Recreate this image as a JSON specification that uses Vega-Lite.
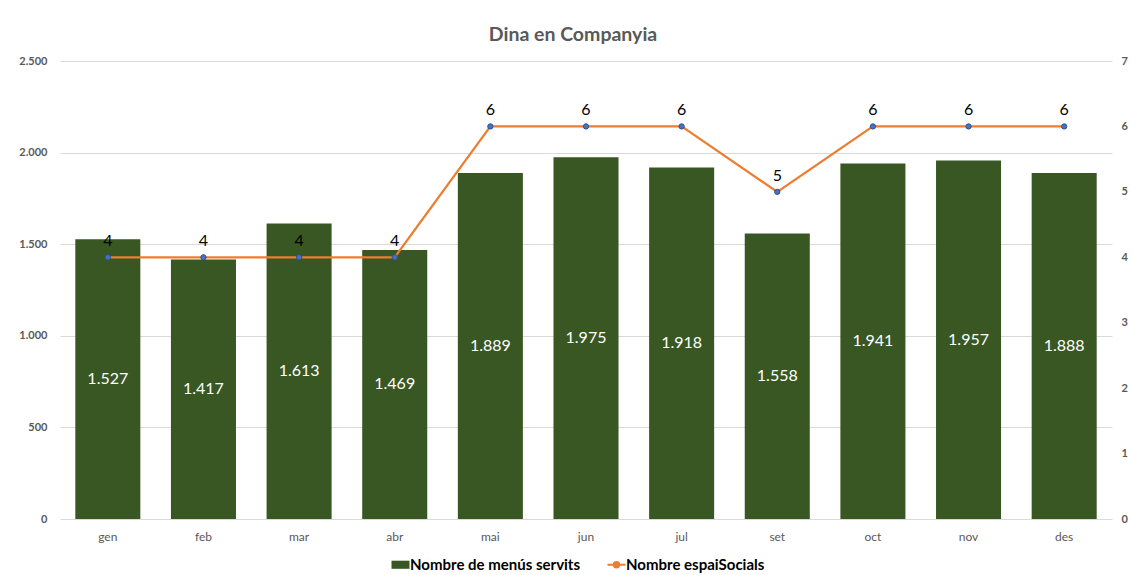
{
  "$schema": "https://vega.github.io/schema/vega-lite/v6.json",
  "width": 1052,
  "height": 458,
  "autosize": {"type": "none"},
  "padding": {"left": 60, "top": 61, "right": 19, "bottom": 56},
  "background": "white",
  "title": {
    "text": "Dina en Companyia",
    "font": "Lato",
    "fontSize": 19.5,
    "fontWeight": "bold",
    "color": "#595959",
    "anchor": "middle",
    "baseline": "middle",
    "offset": 1,
    "dx": -13
  },
  "config": {
    "locale": {"number": {"decimal": ",", "thousands": ".", "grouping": [3], "currency": ["", " €"]}},
    "view": {"stroke": null},
    "font": "Lato"
  },
  "data": {
    "values": [
      {"mes": "gen", "menus": 1527, "espais": 4},
      {"mes": "feb", "menus": 1417, "espais": 4},
      {"mes": "mar", "menus": 1613, "espais": 4},
      {"mes": "abr", "menus": 1469, "espais": 4},
      {"mes": "mai", "menus": 1889, "espais": 6},
      {"mes": "jun", "menus": 1975, "espais": 6},
      {"mes": "jul", "menus": 1918, "espais": 6},
      {"mes": "set", "menus": 1558, "espais": 5},
      {"mes": "oct", "menus": 1941, "espais": 6},
      {"mes": "nov", "menus": 1957, "espais": 6},
      {"mes": "des", "menus": 1888, "espais": 6}
    ]
  },
  "encoding": {
    "x": {
      "field": "mes",
      "type": "nominal",
      "sort": null,
      "scale": {"paddingInner": 0.32, "paddingOuter": 0.16},
      "axis": {
        "title": null,
        "labelAngle": 0,
        "labelColor": "#595959",
        "labelFont": "Lato",
        "labelFontSize": 12,
        "labelPadding": 12,
        "ticks": false,
        "domain": false,
        "grid": false
      }
    }
  },
  "layer": [
    {
      "mark": {"type": "bar", "color": "#385723"},
      "encoding": {
        "y": {
          "field": "menus",
          "type": "quantitative",
          "scale": {"domain": [0, 2500], "nice": false},
          "axis": {
            "title": null,
            "orient": "left",
            "values": [0, 500, 1000, 1500, 2000, 2500],
            "format": ",d",
            "labelColor": "#595959",
            "labelFont": "Lato",
            "labelFontSize": 11,
            "labelFontWeight": "bold",
            "labelPadding": 13,
            "ticks": false,
            "domain": false,
            "grid": true,
            "gridColor": "#D9D9D9",
            "gridWidth": 1
          }
        },
        "color": {
          "datum": "Nombre de menús servits",
          "type": "nominal",
          "scale": {
            "domain": ["Nombre de menús servits", "Nombre espaiSocials"],
            "range": ["#385723", "#ED7D31"]
          },
          "legend": {
            "title": null,
            "orient": "none",
            "legendX": 333,
            "legendY": 496,
            "direction": "horizontal",
            "labelFont": "Lato",
            "labelFontSize": 15,
            "labelFontWeight": "bold",
            "labelColor": "#000000",
            "labelLimit": 400,
            "labelOffset": 2,
            "columnPadding": 22,
            "symbolSize": 324,
            "encode": {
              "symbols": {
                "update": {
                  "shape": {"signal": "datum.value === 'Nombre espaiSocials' ? 'M-1,0H1M-0.3,0A0.3,0.3 0 1,0 0.3,0A0.3,0.3 0 1,0 -0.3,0' : 'M-1,-0.45H1V0.45H-1Z'"},
                  "fill": {"signal": "datum.value === 'Nombre espaiSocials' ? '#4472C4' : '#385723'"},
                  "stroke": {"signal": "datum.value === 'Nombre espaiSocials' ? '#ED7D31' : '#385723'"},
                  "strokeWidth": {"signal": "datum.value === 'Nombre espaiSocials' ? 2 : 0"},
                  "size": {"value": 324},
                  "opacity": {"value": 1},
                  "fillOpacity": {"value": 1}
                }
              }
            }
          }
        }
      }
    },
    {
      "mark": {"type": "text", "color": "white", "fontSize": 16, "baseline": "middle", "font": "Lato"},
      "encoding": {
        "y": {
          "field": "menus",
          "type": "quantitative",
          "scale": {"domain": [0, 5000], "nice": false},
          "axis": null
        },
        "text": {"field": "menus", "type": "quantitative", "format": ",d"}
      }
    },
    {
      "encoding": {
        "y": {
          "field": "espais",
          "type": "quantitative",
          "scale": {"domain": [0, 7], "nice": false},
          "axis": {
            "title": null,
            "orient": "right",
            "values": [0, 1, 2, 3, 4, 5, 6, 7],
            "labelColor": "#595959",
            "labelFont": "Lato",
            "labelFontSize": 11,
            "labelFontWeight": "bold",
            "labelPadding": 9,
            "ticks": false,
            "domain": false,
            "grid": false
          }
        }
      },
      "layer": [
        {
          "mark": {"type": "line", "strokeWidth": 2.25},
          "encoding": {
            "color": {"datum": "Nombre espaiSocials", "type": "nominal"}
          }
        },
        {
          "mark": {"type": "point", "filled": true, "fill": "#4472C4", "stroke": "#2F528F", "strokeWidth": 1, "size": 28, "opacity": 1}
        },
        {
          "mark": {"type": "text", "color": "black", "fontSize": 16, "baseline": "middle", "dy": -16, "font": "Lato"},
          "encoding": {
            "text": {"field": "espais", "type": "quantitative"}
          }
        }
      ]
    }
  ],
  "resolve": {"scale": {"y": "independent"}}
}
